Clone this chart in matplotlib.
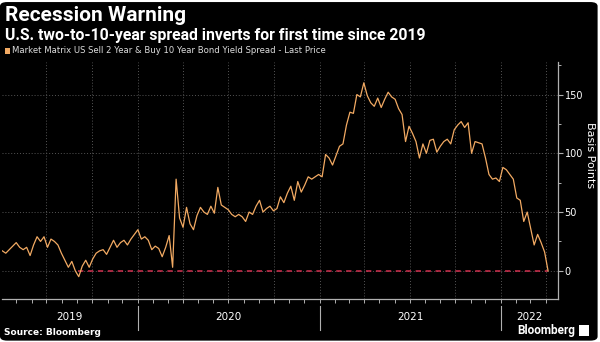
import matplotlib
matplotlib.use("Agg")
import matplotlib.pyplot as plt
import matplotlib.dates as mdates
import matplotlib.transforms as mtransforms
from matplotlib.patches import Rectangle, FancyBboxPatch
import pandas as pd

# weekly closes of the 2s10s spread, basis points
start_date = "2019-04-03"
spread_bp = [
    17, 15, 18, 21, 24, 20, 18, 20, 13, 22,
    29, 25, 29, 20, 27, 25, 22, 15, 9, 3,
    8, 0, -5, 4, 9, 3, 10, 15, 17, 18,
    14, 20, 26, 20, 24, 26, 22, 27, 31, 35,
    27, 29, 26, 18, 21, 19, 12, 20, 30, 3,
    78, 45, 37, 54, 40, 35, 47, 54, 50, 48,
    55, 49, 71, 56, 54, 52, 48, 46, 48, 46,
    42, 50, 48, 55, 60, 50, 53, 55, 51, 53,
    63, 58, 66, 72, 60, 76, 67, 73, 80, 78,
    80, 82, 80, 99, 96, 90, 98, 106, 108, 124,
    135, 134, 150, 148, 160, 149, 143, 140, 147, 139,
    146, 152, 148, 146, 138, 133, 110, 123, 117, 110,
    96, 108, 100, 111, 112, 101, 106, 110, 112, 108,
    120, 124, 127, 122, 126, 100, 110, 109, 108, 96,
    82, 78, 79, 76, 88, 86, 82, 78, 62, 60,
    42, 50, 36, 22, 31, 24, 16, 0,
]
dates = pd.date_range(start_date, periods=len(spread_bp), freq="7D")

yticks = [0, 50, 100, 150]
year_labels = ["2019", "2020", "2021", "2022"]
inversion_start = "2019-09-03"

title = "Recession Warning"
subtitle = "U.S. two-to-10-year spread inverts for first time since 2019"
legend_label = "Market Matrix US Sell 2 Year & Buy 10 Year Bond Yield Spread - Last Price"

LINE = "#f2aa63"
GRID = "#555555"
AXIS = "#b0b0b0"

fig = plt.figure(figsize=(6, 3.42), dpi=100, facecolor="white")
fig.patches.append(FancyBboxPatch((0.0, 0.004), 0.996, 0.99,
                                  boxstyle="round,pad=0,rounding_size=0.012",
                                  transform=fig.transFigure, facecolor="black",
                                  edgecolor="none", zorder=-10))

ax = fig.add_axes([0.003, 0.1257, 0.927, 0.694])
ax.set_facecolor("black")

x_left = pd.Timestamp("2019-04-02")
x_right = pd.Timestamp("2022-04-26")
ax.set_xlim(x_left, x_right)
ax.set_ylim(-24, 178)

ax.plot(dates, spread_bp, color=LINE, lw=0.9, zorder=3)
ax.hlines(0, pd.Timestamp(inversion_start), dates[-1], colors="#d2304f",
          linestyles=(0, (3.5, 3)), lw=1.1, zorder=2)

# quarterly vertical grid, monthly minor ticks
ax.xaxis.set_major_locator(mdates.MonthLocator(bymonth=[1, 4, 7, 10]))
ax.xaxis.set_minor_locator(mdates.MonthLocator())
ax.xaxis.set_major_formatter(plt.NullFormatter())
ax.tick_params(axis="x", which="both", length=3, width=0.7, color=AXIS, direction="out")

ax.yaxis.tick_right()
ax.set_yticks(yticks)
ax.set_yticklabels([str(v) for v in yticks])
ax.yaxis.set_minor_locator(plt.MultipleLocator(25))
ax.tick_params(axis="y", which="major", length=3.5, width=0.8, color=AXIS,
               labelcolor="white", labelsize=7, pad=1.2)
ax.tick_params(axis="y", which="minor", length=2, width=0.7, color=AXIS)

ax.grid(which="major", axis="both", color=GRID, linestyle=(0, (1, 2)), lw=0.7)
ax.set_axisbelow(True)

for side in ["top", "left"]:
    ax.spines[side].set_visible(False)
ax.spines["right"].set_color(AXIS)
ax.spines["bottom"].set_color(AXIS)
ax.spines["right"].set_linewidth(0.9)
ax.spines["bottom"].set_linewidth(0.9)

# year labels centred on the visible part of each year, separators between
trans = mtransforms.blended_transform_factory(ax.transData, ax.transAxes)
for label in year_labels:
    y0 = max(pd.Timestamp(label + "-01-01"), x_left)
    y1 = min(pd.Timestamp(str(int(label) + 1) + "-01-01"), x_right)
    mid = y0 + (y1 - y0) / 2
    ax.text(mid, -0.055, label, transform=trans, ha="center", va="top",
            color="white", fontsize=7.5)
    if int(label) > 2019:
        ax.plot([pd.Timestamp(label + "-01-01")] * 2, [-0.03, -0.13], transform=trans,
                color=AXIS, lw=0.8, clip_on=False)

fig.text(0.983, 0.548, "Basis Points", color="white", fontsize=8, rotation=-90,
         va="center", ha="center")

fig.text(0.008, 0.955, title, color="white", fontsize=15, fontweight="bold",
         family="Roboto", va="center", ha="left")
fig.text(0.008, 0.895, subtitle, color="white", fontsize=11.3, fontweight="bold",
         family="Roboto", va="center", ha="left")
fig.patches.append(Rectangle((0.008, 0.843), 0.008, 0.018, transform=fig.transFigure,
                             facecolor=LINE, edgecolor="none"))
fig.text(0.02, 0.852, legend_label, color="#dddddd", fontsize=6.1,
         family=["Liberation Sans Narrow", "DejaVu Sans"], va="center", ha="left")

fig.text(0.006, 0.028, "Source: Bloomberg", color="white", fontsize=6.5,
         fontweight="bold", family="DejaVu Sans", va="center", ha="left")
fig.text(0.958, 0.035, "Bloomberg", color="white", fontsize=8.5, fontweight="bold",
         family="Roboto", va="center", ha="right")
fig.patches.append(Rectangle((0.965, 0.018), 0.016, 0.033, transform=fig.transFigure,
                             facecolor="white", edgecolor="none"))

fig.savefig("out.png", dpi=100, facecolor=fig.get_facecolor())
